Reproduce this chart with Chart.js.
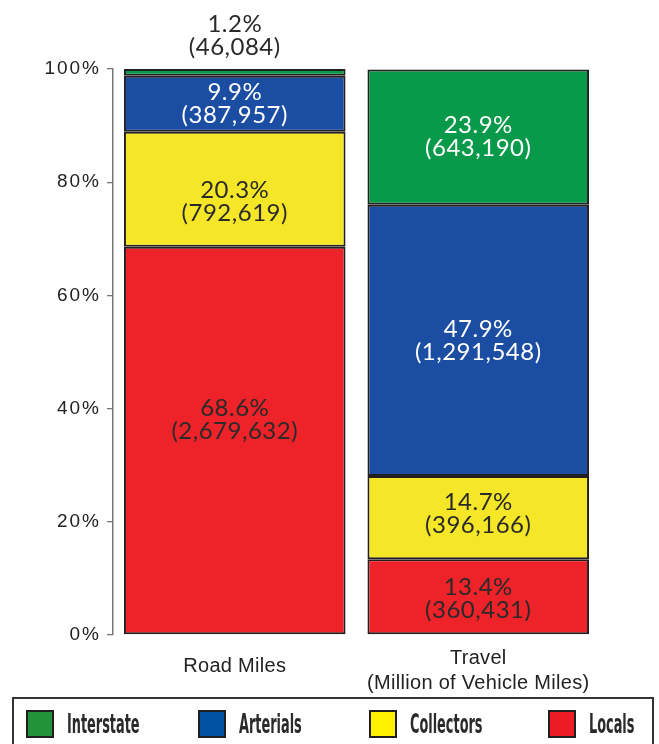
<!DOCTYPE html>
<html>
<head>
<meta charset="utf-8">
<script src="https://cdn.jsdelivr.net/npm/chart.js@4.4.1/dist/chart.umd.min.js"></script>
<style>
  html, body { margin: 0; padding: 0; background: #fff; }
  #wrap { position: relative; width: 659px; height: 744px; overflow: hidden; }
  #chart { position: absolute; left: 0; top: 0; }
  #legend { position: absolute; left: 12px; top: 697px; width: 642px; height: 60px;
            border: 2px solid #333; box-sizing: border-box; }
  .lg-item { position: absolute; top: 9px; display: flex; align-items: center; white-space: nowrap; }
  .lg-box  { width: 28px; height: 28px; border: 2px solid #231f20; box-sizing: border-box; }
  .lg-text { font-family: 'Liberation Sans Narrow', 'DejaVu Sans Condensed', sans-serif; font-size: 27px;
             font-weight: bold; color: #2a2a2a; transform: scaleX(0.53); transform-origin: left center;
             margin-left: 13px; }
</style>
</head>
<body>
<div id="wrap">
  <canvas id="chart" width="659" height="744"></canvas>
  <div id="legend"></div>
</div>
<script>
// ─── Data ───────────────────────────────────────────────────────────────────
const categories     = [['Road Miles'], ['Travel', '(Million of Vehicle Miles)']];
const seriesNames    = ['Locals', 'Collectors', 'Arterials', 'Interstate'];

const localsPct      = [68.6, 13.4];
const collectorsPct  = [20.3, 14.7];
const arterialsPct   = [9.9, 47.9];
const interstatePct  = [1.2, 23.9];

const localsCount     = [2679632, 360431];
const collectorsCount = [792619, 396166];
const arterialsCount  = [387957, 1291548];
const interstateCount = [46084, 643190];

const yTicks = [0, 20, 40, 60, 80, 100];

// ─── Styles ─────────────────────────────────────────────────────────────────
const barColors    = ['#ee2229', '#f6e628', '#1b4ea2', '#089a4a'];
const legendColors = ['#ed1c24', '#fff200', '#0052a0', '#23933a'];
const labelColors  = ['#2a2a2a', '#2a2a2a', '#ffffff', '#ffffff'];
const legendLeft   = { Interstate: 12, Arterials: 184, Collectors: 355, Locals: 534 };
// small hand nudges (px) that the original artwork applied to some labels
const labelNudge   = { '0-0': -21, '1-0': 12, '0-1': 2, '1-1': -4 };

const pctSeries   = [localsPct, collectorsPct, arterialsPct, interstatePct];
const countSeries = [localsCount, collectorsCount, arterialsCount, interstateCount];

const fmt = n => n.toLocaleString('en-US');

// ─── Plugins ────────────────────────────────────────────────────────────────
// the original tick labels are set quite loose
const tickSpacing = {
  id: 'tickSpacing',
  beforeDraw(chart) { chart.ctx.letterSpacing = '2px'; },
  afterDraw(chart)  { chart.ctx.letterSpacing = '0px'; }
};

const segmentLabels = {
  id: 'segmentLabels',
  afterDatasetsDraw(chart) {
    const ctx = chart.ctx;
    ctx.save();
    ctx.letterSpacing = '0.5px';
    ctx.font = '400 24px Lato, "Open Sans", sans-serif';
    ctx.textAlign = 'center';
    ctx.textBaseline = 'middle';
    chart.data.datasets.forEach((ds, di) => {
      const meta = chart.getDatasetMeta(di);
      meta.data.forEach((bar, i) => {
        const lines = [ds.data[i] + '%', '(' + fmt(countSeries[di][i]) + ')'];
        const h = Math.abs(bar.base - bar.y);
        let cy, color;
        if (h < 50) {
          // too thin: put the label above the bar
          cy = bar.y - 33.5;
          color = '#2a2a2a';
        } else {
          cy = (bar.y + bar.base) / 2 + (labelNudge[di + '-' + i] || 0);
          color = labelColors[di];
        }
        ctx.fillStyle = color;
        ctx.fillText(lines[0], bar.x, cy - 11.5);
        ctx.fillText(lines[1], bar.x, cy + 11.5);
      });
    });
    ctx.restore();
  }
};

const categoryLabels = {
  id: 'categoryLabels',
  afterDraw(chart) {
    const ctx = chart.ctx, xs = chart.scales.x, bottom = chart.chartArea.bottom;
    ctx.save();
    ctx.letterSpacing = '0.3px';
    ctx.font = '20px "Liberation Sans", Arial, sans-serif';
    ctx.fillStyle = '#222';
    ctx.textAlign = 'center';
    ctx.textBaseline = 'middle';
    categories.forEach((lines, i) => {
      const x = xs.getPixelForValue(i);
      const y0 = bottom + 31 - (lines.length - 1) * 8;
      lines.forEach((t, k) => ctx.fillText(t, x, y0 + k * 25));
    });
    ctx.restore();
  }
};

// ─── Chart ──────────────────────────────────────────────────────────────────
new Chart(document.getElementById('chart'), {
  type: 'bar',
  data: {
    labels: categories.map(c => c.join(' ')),
    datasets: seriesNames.map((name, i) => ({
      label: name,
      data: pctSeries[i],
      backgroundColor: barColors[i],
      borderColor: '#231f20',
      borderWidth: 2,
      borderSkipped: false,
      barPercentage: 0.91,
      categoryPercentage: 1,
    }))
  },
  options: {
    responsive: false,
    animation: false,
    devicePixelRatio: 1,
    layout: { padding: { top: 69, right: 59, left: 0, bottom: 0 } },
    plugins: { legend: { display: false }, tooltip: { enabled: false } },
    scales: {
      x: {
        stacked: true,
        grid: { display: false },
        border: { display: false },
        ticks: { display: false },
        afterFit: s => { s.height = 109; }
      },
      y: {
        stacked: true,
        min: 0, max: 100,
        afterBuildTicks: s => { s.ticks = yTicks.map(v => ({ value: v })); },
        afterFit: s => { s.width = 113; },
        grid: { drawOnChartArea: false, drawTicks: true, tickLength: 6, tickColor: '#777', lineWidth: 1.3 },
        border: { display: true, color: '#777', width: 1.5 },
        ticks: {
          padding: 6,
          color: '#222',
          font: { family: '"Liberation Sans", Arial, sans-serif', size: 19 },
          callback: v => v + '%'
        }
      }
    }
  },
  plugins: [tickSpacing, segmentLabels, categoryLabels]
});

// ─── Legend (Interstate first, as in the original) ──────────────────────────
document.getElementById('legend').innerHTML = seriesNames.map((name, i) => ({ name, i }))
  .reverse()
  .map(({ name, i }) => `
    <div class="lg-item" style="left:${legendLeft[name]}px">
      <div class="lg-box" style="background:${legendColors[i]}"></div>
      <div class="lg-text">${name}</div>
    </div>`).join('');
</script>
</body>
</html>
